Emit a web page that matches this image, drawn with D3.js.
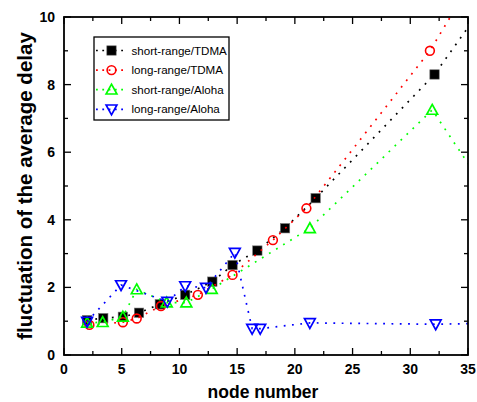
<!DOCTYPE html>
<html>
<head>
<meta charset="utf-8">
<script src="https://cdn.jsdelivr.net/npm/d3@7"></script>
<style>
  body { margin: 0; background: #fff; }
  text { font-family: Arial, "Liberation Sans", sans-serif; }
</style>
</head>
<body>
<svg id="chart" width="477" height="402"></svg>
<script>
// values (points past x=35 only steer the clipped line ends)
const seriesNames = ["short-range/TDMA", "long-range/TDMA", "short-range/Aloha", "long-range/Aloha"]

const shortTdmaX = [2, 3.4, 5.1, 6.5, 8.3, 10.5, 12.85, 14.6, 16.75, 19.15, 21.8, 32.1, 37]
const shortTdmaY = [1.03, 1.09, 1.13, 1.25, 1.50, 1.78, 2.17, 2.66, 3.09, 3.75, 4.64, 8.30, 10.65]

const longTdmaX = [2.2, 5.1, 6.3, 8.4, 11.6, 14.6, 18.1, 21.0, 31.7, 37]
const longTdmaY = [0.89, 0.97, 1.08, 1.45, 1.78, 2.37, 3.40, 4.34, 9.0, 12.0]

const shortAlohaX = [2.0, 3.35, 5.1, 6.3, 8.9, 10.6, 12.8, 21.3, 31.9, 37]
const shortAlohaY = [0.95, 0.97, 1.13, 1.94, 1.55, 1.55, 1.95, 3.75, 7.25, 4.65]

const longAlohaX = [2.0, 4.94, 8.95, 10.5, 12.3, 14.8, 16.3, 17.0, 21.3, 32.2, 37]
const longAlohaY = [0.99, 2.07, 1.58, 2.04, 1.99, 3.03, 0.78, 0.78, 0.95, 0.91, 0.94]

const xTicks = [0, 5, 10, 15, 20, 25, 30, 35]
const yTicks = [0, 2, 4, 6, 8, 10]

const configuration = {
  left: 64, right: 468, top: 17, bottom: 355
}

const svg = d3.select("#chart")

const x = d3.scaleLinear().domain([0, 35]).range([configuration.left, configuration.right])
const y = d3.scaleLinear().domain([0, 10]).range([configuration.bottom, configuration.top])

const zip = (xs, ys) => xs.map((v, i) => ({x: v, y: ys[i]}))

const series = [
  {name: seriesNames[0], color: "#000000", marker: "square", data: zip(shortTdmaX, shortTdmaY)},
  {name: seriesNames[1], color: "#ff0000", marker: "circle", data: zip(longTdmaX, longTdmaY)},
  {name: seriesNames[2], color: "#00ff00", marker: "up", data: zip(shortAlohaX, shortAlohaY)},
  {name: seriesNames[3], color: "#0000ff", marker: "down", data: zip(longAlohaX, longAlohaY)}
]

svg.append("clipPath").attr("id", "plot-clip")
  .append("rect")
  .attr("x", configuration.left).attr("y", configuration.top)
  .attr("width", configuration.right - configuration.left)
  .attr("height", configuration.bottom - configuration.top)

const drawMarker = (g, s) => {
  if (s.marker === "square") {
    g.append("rect").attr("x", -4.7).attr("y", -4.7).attr("width", 9.4).attr("height", 9.4)
      .attr("fill", "#000").attr("stroke", "#777").attr("stroke-width", 0.6)
  } else if (s.marker === "circle") {
    g.append("circle").attr("r", 4.4).attr("fill", "none")
      .attr("stroke", s.color).attr("stroke-width", 1.6)
  } else if (s.marker === "up") {
    g.append("path").attr("d", "M0,-5.5L5.4,4.3L-5.4,4.3Z").attr("fill", "none")
      .attr("stroke", s.color).attr("stroke-width", 1.7)
  } else {
    g.append("path").attr("d", "M0,5.5L5.4,-4.3L-5.4,-4.3Z").attr("fill", "none")
      .attr("stroke", s.color).attr("stroke-width", 1.7)
  }
}

const line = d3.line().x(d => x(d.x)).y(d => y(d.y))

const plot = svg.append("g")
series.forEach(s => {
  plot.append("path")
    .attr("clip-path", "url(#plot-clip)")
    .attr("d", line(s.data))
    .attr("fill", "none")
    .attr("stroke", s.color)
    .attr("stroke-width", 1.7)
    .attr("stroke-dasharray", "1.8,6.5")
  s.data.filter(d => d.x <= 35).forEach(d => {
    drawMarker(plot.append("g").attr("transform", `translate(${x(d.x)},${y(d.y)})`), s)
  })
})

// axes: ticks point inward, mirrored on top and right
const xMinor = d3.range(0, 35.01, 2.5)
const yMinor = d3.range(0, 10.01, 1)
const axes = svg.append("g").attr("stroke", "#000").attr("stroke-width", 1.3)

xMinor.forEach(v => {
  const len = v % 5 === 0 ? 7 : 4
  axes.append("line").attr("x1", x(v)).attr("x2", x(v))
    .attr("y1", configuration.bottom).attr("y2", configuration.bottom - len)
  axes.append("line").attr("x1", x(v)).attr("x2", x(v))
    .attr("y1", configuration.top).attr("y2", configuration.top + len)
})
yMinor.forEach(v => {
  const len = v % 2 === 0 ? 7 : 4
  axes.append("line").attr("y1", y(v)).attr("y2", y(v))
    .attr("x1", configuration.left).attr("x2", configuration.left + len)
  axes.append("line").attr("y1", y(v)).attr("y2", y(v))
    .attr("x1", configuration.right).attr("x2", configuration.right - len)
})
svg.append("rect")
  .attr("x", configuration.left).attr("y", configuration.top)
  .attr("width", configuration.right - configuration.left)
  .attr("height", configuration.bottom - configuration.top)
  .attr("fill", "none").attr("stroke", "#000").attr("stroke-width", 1.8)

svg.append("g").selectAll("text").data(xTicks).enter().append("text")
  .attr("x", d => x(d)).attr("y", 374)
  .attr("text-anchor", "middle")
  .attr("font-size", 14).attr("font-weight", "bold")
  .text(d => d)

svg.append("g").selectAll("text").data(yTicks).enter().append("text")
  .attr("x", 55).attr("y", d => y(d) + 5)
  .attr("text-anchor", "end")
  .attr("font-size", 14).attr("font-weight", "bold")
  .text(d => d)

svg.append("text")
  .attr("x", 263).attr("y", 398)
  .attr("text-anchor", "middle")
  .attr("font-size", 17.5).attr("font-weight", "bold")
  .text("node number")

svg.append("text")
  .attr("transform", "translate(32,186) rotate(-90)")
  .attr("text-anchor", "middle")
  .attr("font-size", 20.5).attr("font-weight", "bold")
  .text("fluctuation of the average delay")

// legend
const legend = svg.append("g")
legend.append("rect")
  .attr("x", 94).attr("y", 37).attr("width", 135).attr("height", 83)
  .attr("fill", "#fff").attr("stroke", "#000").attr("stroke-width", 1.3)

series.forEach((s, i) => {
  const ly = 50.5 + i * 19.6
  legend.append("line")
    .attr("x1", 96).attr("x2", 126).attr("y1", ly).attr("y2", ly)
    .attr("stroke", s.color).attr("stroke-width", 1.7)
    .attr("stroke-dasharray", "1.8,4.5")
  drawMarker(legend.append("g").attr("transform", `translate(111.5,${ly})`), s)
  legend.append("text")
    .attr("x", 131.5).attr("y", ly + 4.1)
    .attr("font-size", 11.6)
    .text(s.name)
})
</script>
</body>
</html>
